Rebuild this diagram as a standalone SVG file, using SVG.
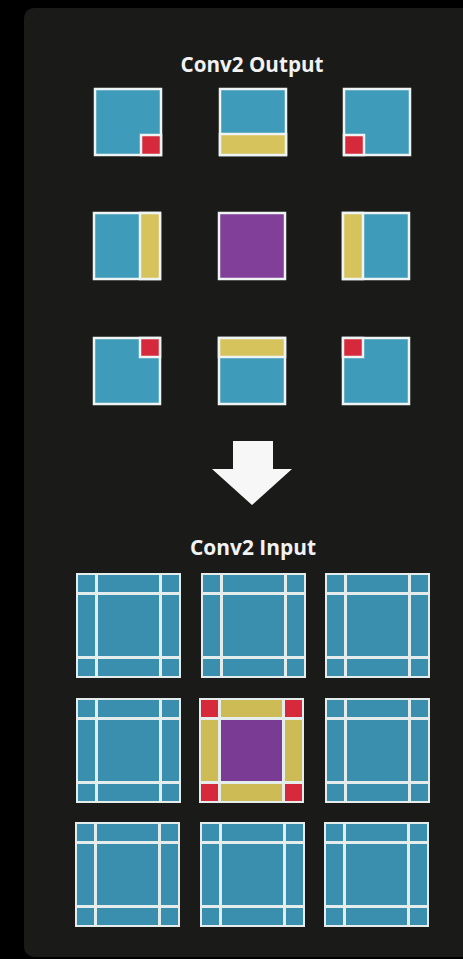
<svg xmlns="http://www.w3.org/2000/svg" width="463" height="959" viewBox="0 0 463 959">
<style>
.t{font-family:"Open Sans","Liberation Sans",sans-serif;font-weight:700;font-size:20.5px;fill:#f2f2f2;text-anchor:middle}
.b{fill:#3e9bba;stroke:#eef3f3;stroke-width:2.5}
.r{fill:#d62a3c;stroke:#eef3f3;stroke-width:2.5}
.y{fill:#d6c35c;stroke:#eef3f3;stroke-width:2.5}
.p{fill:#823f99;stroke:#eef3f3;stroke-width:2.5}
.w{fill:#e4ecec}
.c{fill:#3a8fae}
.cr{fill:#d62a3c}
.cy{fill:#cdbb55}
.cp{fill:#7a3b95}
</style>
<defs>
<g id="grid">
<rect class="w" x="0" y="0" width="105" height="105"/>
<rect class="c" x="2" y="2" width="17" height="17"/>
<rect class="c" x="22" y="2" width="61" height="17"/>
<rect class="c" x="86" y="2" width="17" height="17"/>
<rect class="c" x="2" y="22" width="17" height="61"/>
<rect class="c" x="22" y="22" width="61" height="61"/>
<rect class="c" x="86" y="22" width="17" height="61"/>
<rect class="c" x="2" y="86" width="17" height="17"/>
<rect class="c" x="22" y="86" width="61" height="17"/>
<rect class="c" x="86" y="86" width="17" height="17"/>
</g>
</defs>
<rect x="0" y="0" width="463" height="959" fill="#000"/>
<rect x="24" y="8" width="460" height="949" rx="10" fill="#1a1b19"/>
<text class="t" x="252" y="72" textLength="143" lengthAdjust="spacingAndGlyphs">Conv2 Output</text>
<g id="out-1-1"><rect class="b" x="95" y="89" width="66" height="66"/><rect class="r" x="141" y="135" width="20" height="20"/></g>
<g id="out-1-2"><rect class="b" x="220" y="89" width="66" height="66"/><rect class="y" x="220" y="134" width="66" height="21"/></g>
<g id="out-1-3"><rect class="b" x="344" y="89" width="66" height="66"/><rect class="r" x="344" y="135" width="20" height="20"/></g>
<g id="out-2-1"><rect class="b" x="94" y="213" width="66" height="66"/><rect class="y" x="140" y="213" width="20" height="66"/></g>
<g id="out-2-2"><rect class="p" x="219" y="213" width="66" height="66"/></g>
<g id="out-2-3"><rect class="b" x="343" y="213" width="66" height="66"/><rect class="y" x="343" y="213" width="20" height="66"/></g>
<g id="out-3-1"><rect class="b" x="94" y="338" width="66" height="66"/><rect class="r" x="140" y="338" width="20" height="19"/></g>
<g id="out-3-2"><rect class="b" x="219" y="338" width="66" height="66"/><rect class="y" x="219" y="338" width="66" height="19"/></g>
<g id="out-3-3"><rect class="b" x="343" y="338" width="66" height="66"/><rect class="r" x="343" y="338" width="20" height="19"/></g>
<g id="connectors">
<polygon points="233,441 273,441 273,469 292,469 252,505 212,469 233,469" fill="#f7f7f7"/>
</g>
<text class="t" x="253" y="555" textLength="126" lengthAdjust="spacingAndGlyphs">Conv2 Input</text>
<g id="in-1-1"><use href="#grid" x="76" y="573"/></g>
<g id="in-1-2"><use href="#grid" x="201" y="573"/></g>
<g id="in-1-3"><use href="#grid" x="325" y="573"/></g>
<g id="in-2-1"><use href="#grid" x="76" y="698"/></g>
<g id="in-2-2">
<rect class="w" x="199" y="698" width="105" height="105"/>
<rect class="cr" x="201" y="700" width="17" height="17"/>
<rect class="cy" x="221" y="700" width="61" height="17"/>
<rect class="cr" x="285" y="700" width="17" height="17"/>
<rect class="cy" x="201" y="720" width="17" height="61"/>
<rect class="cp" x="221" y="720" width="61" height="61"/>
<rect class="cy" x="285" y="720" width="17" height="61"/>
<rect class="cr" x="201" y="784" width="17" height="17"/>
<rect class="cy" x="221" y="784" width="61" height="17"/>
<rect class="cr" x="285" y="784" width="17" height="17"/>
</g>
<g id="in-2-3"><use href="#grid" x="325" y="698"/></g>
<g id="in-3-1"><use href="#grid" x="75" y="822"/></g>
<g id="in-3-2"><use href="#grid" x="200" y="822"/></g>
<g id="in-3-3"><use href="#grid" x="324" y="822"/></g>
</svg>
